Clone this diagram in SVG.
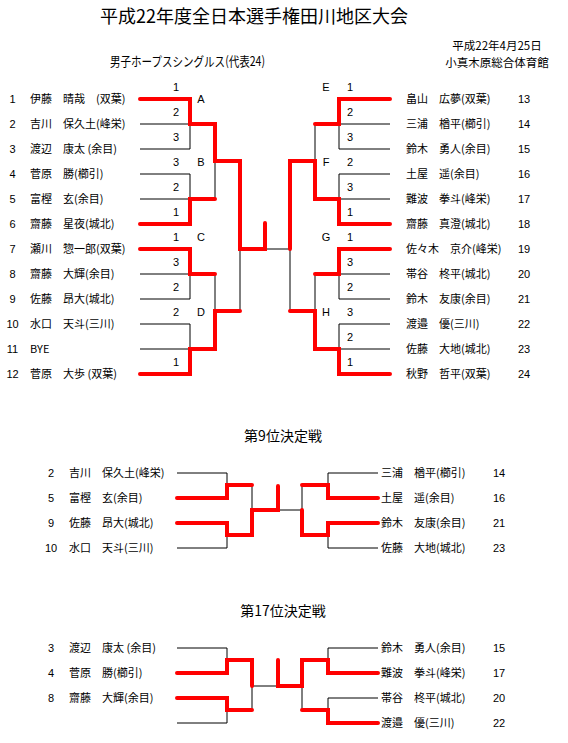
<svg xmlns="http://www.w3.org/2000/svg" width="568" height="743" viewBox="0 0 568 743">
<style>
text { font-family: "Noto Sans CJK JP", "Liberation Sans", sans-serif; fill: #000; }
.nm { font-size: 11px; }
.num { font-family: "Liberation Sans", "Noto Sans CJK JP", sans-serif; font-size: 11px; text-anchor: middle; }
.lb { font-family: "Liberation Sans", sans-serif; font-size: 11px; text-anchor: middle; }
.blk { fill: none; stroke: #000; stroke-width: 1; }
.red { fill: none; stroke: #FF0000; stroke-width: 4; stroke-linecap: round; stroke-linejoin: miter; }
</style>
<rect width="568" height="743" fill="#fff"/>

<g id="titles">
<text x="254" y="23" font-size="18" text-anchor="middle">平成22年度全日本選手権田川地区大会</text>
<text x="110" y="66" font-size="13" textLength="155" lengthAdjust="spacingAndGlyphs">男子ホープスシングルス(代表24)</text>
<text x="497" y="49.5" font-size="11.5" text-anchor="middle">平成22年4月25日</text>
<text x="497" y="66.5" font-size="11.5" text-anchor="middle">小真木原総合体育館</text>
<text x="283" y="441" font-size="14" text-anchor="middle">第9位決定戦</text>
<text x="283" y="616" font-size="14" text-anchor="middle">第17位決定戦</text>
</g>

<g id="connectors">
<path class="blk" d="M140 124H190V149H140"/>
<path class="blk" d="M140 174H190V199H140"/>
<path class="blk" d="M215 161V199"/>
<path class="blk" d="M140 274H190V299H140"/>
<path class="blk" d="M215 274V311"/>
<path class="blk" d="M140 324H190V349H140"/>
<path class="blk" d="M240 249V311"/>
<path class="blk" d="M265 249H290"/>
<path class="blk" d="M390 124H339V149H390"/>
<path class="blk" d="M315 124V161"/>
<path class="blk" d="M390 174H339V199H390"/>
<path class="blk" d="M390 274H339V299H390"/>
<path class="blk" d="M315 274V311"/>
<path class="blk" d="M390 324H339V349H390"/>
<path class="blk" d="M290 249V311"/>
<path class="red" d="M140 99H190V124H215V161H240V249H265V223"/>
<path class="red" d="M140 224H190V199H215"/>
<path class="red" d="M140 249H190V274H215"/>
<path class="red" d="M140 374H190V349H215V311H240"/>
<path class="red" d="M390 99H339V124H315"/>
<path class="red" d="M390 224H339V199H315V161H290V249"/>
<path class="red" d="M390 249H339V274H315"/>
<path class="red" d="M390 374H339V349H315V311H290"/>
<path class="blk" d="M177 473H227V485"/>
<path class="blk" d="M177 548H227V535"/>
<path class="blk" d="M252 485V510"/>
<path class="blk" d="M278 510H302"/>
<path class="blk" d="M378 473H328V485"/>
<path class="blk" d="M378 548H328V535"/>
<path class="blk" d="M302 485V510"/>
<path class="red" d="M177 498H227V485H252"/>
<path class="red" d="M177 523H227V535H252V510H278V486"/>
<path class="red" d="M378 498H328V485H302"/>
<path class="red" d="M378 523H328V535H302V510"/>
<path class="blk" d="M177 648H227V660"/>
<path class="blk" d="M177 723H227V710"/>
<path class="blk" d="M252 686V710"/>
<path class="blk" d="M252 686H278"/>
<path class="blk" d="M378 648H328V660"/>
<path class="blk" d="M378 698H328V710"/>
<path class="blk" d="M302 686V710"/>
<path class="red" d="M177 673H227V660H252V686"/>
<path class="red" d="M177 698H227V710H252"/>
<path class="red" d="M378 673H328V660H302V686H278V660"/>
<path class="red" d="M378 723H328V710H302"/>
</g>

<g id="labels">
<text class="lb" x="176" y="90.5">1</text>
<text class="lb" x="201" y="103">A</text>
<text class="lb" x="176" y="115.5">2</text>
<text class="lb" x="176" y="140.5">3</text>
<text class="lb" x="176" y="165.5">3</text>
<text class="lb" x="201" y="165.5">B</text>
<text class="lb" x="176" y="190.5">2</text>
<text class="lb" x="176" y="215.5">1</text>
<text class="lb" x="176" y="240.5">1</text>
<text class="lb" x="201" y="240.5">C</text>
<text class="lb" x="176" y="265.5">3</text>
<text class="lb" x="176" y="290.5">2</text>
<text class="lb" x="176" y="315.5">2</text>
<text class="lb" x="201" y="315.5">D</text>
<text class="lb" x="176" y="365.5">1</text>
<text class="lb" x="326" y="90.5">E</text>
<text class="lb" x="350" y="90.5">1</text>
<text class="lb" x="350" y="115.5">2</text>
<text class="lb" x="350" y="140.5">3</text>
<text class="lb" x="326" y="165.5">F</text>
<text class="lb" x="350" y="165.5">2</text>
<text class="lb" x="350" y="190.5">3</text>
<text class="lb" x="350" y="215.5">1</text>
<text class="lb" x="326" y="240.5">G</text>
<text class="lb" x="350" y="240.5">1</text>
<text class="lb" x="350" y="265.5">3</text>
<text class="lb" x="350" y="290.5">2</text>
<text class="lb" x="326" y="315.5">H</text>
<text class="lb" x="350" y="315.5">3</text>
<text class="lb" x="350" y="340.5">2</text>
<text class="lb" x="350" y="365.5">1</text>
</g>

<g id="p1"><text class="num" x="12.5" y="103">1</text><text class="nm" x="30" y="103">伊藤　晴哉　(双葉)</text></g>
<g id="p2"><text class="num" x="12.5" y="128">2</text><text class="nm" x="30" y="128">吉川　保久土(峰栄)</text></g>
<g id="p3"><text class="num" x="12.5" y="153">3</text><text class="nm" x="30" y="153">渡辺　康太 (余目)</text></g>
<g id="p4"><text class="num" x="12.5" y="178">4</text><text class="nm" x="30" y="178">菅原　勝(櫛引)</text></g>
<g id="p5"><text class="num" x="12.5" y="203">5</text><text class="nm" x="30" y="203">富樫　玄(余目)</text></g>
<g id="p6"><text class="num" x="12.5" y="228">6</text><text class="nm" x="30" y="228">齋藤　星夜(城北)</text></g>
<g id="p7"><text class="num" x="12.5" y="253">7</text><text class="nm" x="30" y="253">瀬川　惣一郎(双葉)</text></g>
<g id="p8"><text class="num" x="12.5" y="278">8</text><text class="nm" x="30" y="278">齋藤　大輝(余目)</text></g>
<g id="p9"><text class="num" x="12.5" y="303">9</text><text class="nm" x="30" y="303">佐藤　昂大(城北)</text></g>
<g id="p10"><text class="num" x="12.5" y="328">10</text><text class="nm" x="30" y="328">水口　天斗(三川)</text></g>
<g id="p11"><text class="num" x="12.5" y="353">11</text><text class="nm" x="30" y="353">BYE</text></g>
<g id="p12"><text class="num" x="12.5" y="378">12</text><text class="nm" x="30" y="378">菅原　大歩 (双葉)</text></g>

<g id="p13"><text class="nm" x="406" y="103">畠山　広夢(双葉)</text><text class="num" x="524" y="103">13</text></g>
<g id="p14"><text class="nm" x="406" y="128">三浦　楢平(櫛引)</text><text class="num" x="524" y="128">14</text></g>
<g id="p15"><text class="nm" x="406" y="153">鈴木　勇人(余目)</text><text class="num" x="524" y="153">15</text></g>
<g id="p16"><text class="nm" x="406" y="178">土屋　遥(余目)</text><text class="num" x="524" y="178">16</text></g>
<g id="p17"><text class="nm" x="406" y="203">難波　拳斗(峰栄)</text><text class="num" x="524" y="203">17</text></g>
<g id="p18"><text class="nm" x="406" y="228">齋藤　真澄(城北)</text><text class="num" x="524" y="228">18</text></g>
<g id="p19"><text class="nm" x="406" y="253">佐々木　京介(峰栄)</text><text class="num" x="524" y="253">19</text></g>
<g id="p20"><text class="nm" x="406" y="278">帯谷　柊平(城北)</text><text class="num" x="524" y="278">20</text></g>
<g id="p21"><text class="nm" x="406" y="303">鈴木　友康(余目)</text><text class="num" x="524" y="303">21</text></g>
<g id="p22"><text class="nm" x="406" y="328">渡邉　優(三川)</text><text class="num" x="524" y="328">22</text></g>
<g id="p23"><text class="nm" x="406" y="353">佐藤　大地(城北)</text><text class="num" x="524" y="353">23</text></g>
<g id="p24"><text class="nm" x="406" y="378">秋野　哲平(双葉)</text><text class="num" x="524" y="378">24</text></g>

<g id="q9-2"><text class="num" x="51" y="477">2</text><text class="nm" x="69" y="477">吉川　保久土(峰栄)</text></g>
<g id="q9-5"><text class="num" x="51" y="502">5</text><text class="nm" x="69" y="502">富樫　玄(余目)</text></g>
<g id="q9-9"><text class="num" x="51" y="527">9</text><text class="nm" x="69" y="527">佐藤　昂大(城北)</text></g>
<g id="q9-10"><text class="num" x="51" y="552">10</text><text class="nm" x="69" y="552">水口　天斗(三川)</text></g>
<g id="q9-14"><text class="nm" x="381" y="477">三浦　楢平(櫛引)</text><text class="num" x="499" y="477">14</text></g>
<g id="q9-16"><text class="nm" x="381" y="502">土屋　遥(余目)</text><text class="num" x="499" y="502">16</text></g>
<g id="q9-21"><text class="nm" x="381" y="527">鈴木　友康(余目)</text><text class="num" x="499" y="527">21</text></g>
<g id="q9-23"><text class="nm" x="381" y="552">佐藤　大地(城北)</text><text class="num" x="499" y="552">23</text></g>

<g id="q17-3"><text class="num" x="51" y="652">3</text><text class="nm" x="69" y="652">渡辺　康太 (余目)</text></g>
<g id="q17-4"><text class="num" x="51" y="677">4</text><text class="nm" x="69" y="677">菅原　勝(櫛引)</text></g>
<g id="q17-8"><text class="num" x="51" y="702">8</text><text class="nm" x="69" y="702">齋藤　大輝(余目)</text></g>
<g id="q17-15"><text class="nm" x="381" y="652">鈴木　勇人(余目)</text><text class="num" x="499" y="652">15</text></g>
<g id="q17-17"><text class="nm" x="381" y="677">難波　拳斗(峰栄)</text><text class="num" x="499" y="677">17</text></g>
<g id="q17-20"><text class="nm" x="381" y="702">帯谷　柊平(城北)</text><text class="num" x="499" y="702">20</text></g>
<g id="q17-22"><text class="nm" x="381" y="727">渡邉　優(三川)</text><text class="num" x="499" y="727">22</text></g>
</svg>
